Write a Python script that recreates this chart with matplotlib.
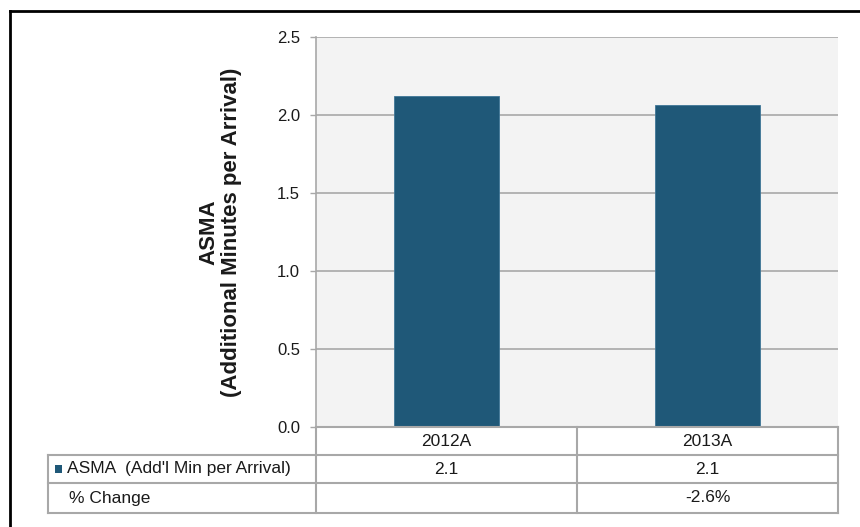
import matplotlib
matplotlib.use("Agg")
import matplotlib.pyplot as plt
from matplotlib.patches import Rectangle
from matplotlib.lines import Line2D

# Data
categories = ["2012A", "2013A"]
asma_values = [2.12, 2.065]
series_label = "ASMA  (Add'l Min per Arrival)"
change_label = "% Change"
y_ticks = [0.0, 0.5, 1.0, 1.5, 2.0, 2.5]
y_label = "ASMA\n(Additional Minutes per Arrival)"

BAR_COLOR = "#1F5878"
PLOT_BG = "#F3F3F3"
GRID_COLOR = "#A8A8A8"
TEXT_COLOR = "#1A1A1A"

plt.rcParams["font.family"] = ["Liberation Sans", "DejaVu Sans"]

W, H = 860, 527
fig = plt.figure(figsize=(W / 100, H / 100), dpi=100)
fig.patch.set_facecolor("white")


def fx(px):
    return px / W


def fy(py):
    return 1 - py / H


# plot area in pixel coordinates
left, right, top, bottom = 316, 838, 37, 427
ax = fig.add_axes([fx(left), fy(bottom), fx(right - left), (bottom - top) / H])
ax.set_facecolor(PLOT_BG)

x = list(range(len(categories)))
ax.bar(x, asma_values, width=0.4, color=BAR_COLOR, edgecolor="#3F7697",
       linewidth=0.6, zorder=3)
ax.set_xlim(-0.5, len(categories) - 0.5)
ax.set_ylim(0, 2.5)
ax.set_yticks(y_ticks)
ax.set_yticklabels([f"{t:.1f}" for t in y_ticks], fontsize=12, color=TEXT_COLOR)
ax.tick_params(axis="y", length=4.5, width=1, color=GRID_COLOR, pad=7)
ax.set_xticks([])
ax.yaxis.grid(True, color=GRID_COLOR, linewidth=1.2, zorder=1)
for side in ["top", "right", "bottom"]:
    ax.spines[side].set_visible(False)
ax.spines["left"].set_color(GRID_COLOR)
ax.spines["left"].set_linewidth(1.2)
ax.set_ylabel(y_label, fontsize=16, fontweight="bold", color=TEXT_COLOR,
              labelpad=25, linespacing=1.1)

# data table under the plot
table_left = 48
col_edges = [table_left, left, (left + right) / 2, right]
row_edges = [427, 455, 483, 513]
tcolor = "#A8A8A8"


def hline(y0, x0, x1, lw=1.5):
    fig.add_artist(Line2D([fx(x0), fx(x1)], [fy(y0), fy(y0)], color=tcolor,
                          lw=lw, transform=fig.transFigure))


def vline(x0, y0, y1, lw=1.5):
    fig.add_artist(Line2D([fx(x0), fx(x0)], [fy(y0), fy(y1)], color=tcolor,
                          lw=lw, transform=fig.transFigure))


hline(row_edges[0], col_edges[1], col_edges[3])
for r in row_edges[1:]:
    hline(r, col_edges[0], col_edges[3])
for c in col_edges[1:]:
    vline(c, row_edges[0], row_edges[3])
vline(col_edges[0], row_edges[1], row_edges[3])

centers = [(col_edges[i + 1] + col_edges[i + 2]) / 2 for i in range(len(categories))]
row_mid = [(row_edges[i] + row_edges[i + 1]) / 2 for i in range(3)]

TABLE_FS = 12.5
for cx, cat in zip(centers, categories):
    fig.text(fx(cx), fy(row_mid[0]), cat, ha="center", va="center",
             fontsize=TABLE_FS, color=TEXT_COLOR)
for cx, v in zip(centers, asma_values):
    fig.text(fx(cx), fy(row_mid[1]), f"{v:.1f}", ha="center", va="center",
             fontsize=TABLE_FS, color=TEXT_COLOR)
changes = [None] + [(asma_values[i] - asma_values[i - 1]) / asma_values[i - 1] * 100
                    for i in range(1, len(asma_values))]
for cx, ch in zip(centers, changes):
    if ch is not None:
        fig.text(fx(cx), fy(row_mid[2]), f"{ch:.1f}%", ha="center", va="center",
                 fontsize=TABLE_FS, color=TEXT_COLOR)

# legend swatch and row labels
fig.add_artist(Rectangle((fx(55), fy(row_mid[1] + 4)), 7 / W, 8 / H,
                         facecolor=BAR_COLOR, edgecolor="none",
                         transform=fig.transFigure))
fig.text(fx(67), fy(row_mid[1]), series_label, ha="left", va="center",
         fontsize=TABLE_FS, color=TEXT_COLOR)
fig.text(fx(69), fy(row_mid[2]), change_label, ha="left", va="center",
         fontsize=TABLE_FS, color=TEXT_COLOR)

# outer frame
fig.add_artist(Line2D([fx(10), fx(10)], [fy(11), 0], color="black", lw=2,
                      transform=fig.transFigure))
fig.add_artist(Line2D([fx(10), 1], [fy(11), fy(11)], color="black", lw=2,
                      transform=fig.transFigure))

fig.savefig("out.png", dpi=100)
